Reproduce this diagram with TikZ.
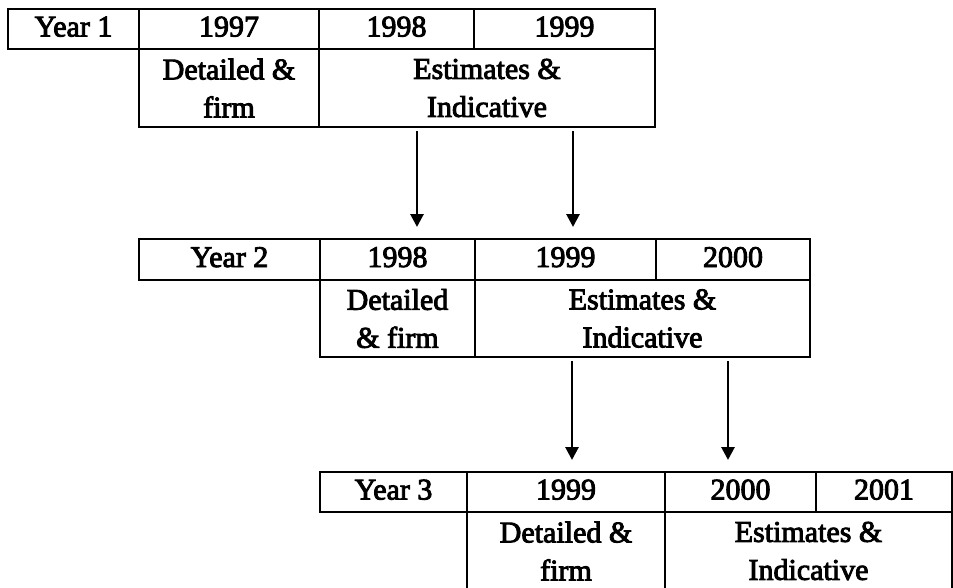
\documentclass[tikz,border=0pt]{standalone}
\usepackage{fontspec}
\setmainfont{Liberation Serif}
\newfontface\cellfont{Liberation Serif}[FakeBold=3]
\usetikzlibrary{arrows.meta}

\begin{document}
\begin{tikzpicture}[x=1pt,y=-1pt,
  cell/.style={draw=black,line width=2.6pt,inner sep=0pt,outer sep=0pt,anchor=north west,
    align=center,font=\cellfont\fontsize{30}{38}\selectfont},
  yr/.style={cell,minimum height=40,text height=21pt,text depth=6pt},
  flow/.style={draw=black,line width=2.8pt,-{Triangle[length=13pt,width=13pt]},
    shorten <=4pt,shorten >=12pt}]
\tikzstyle{every node}+=[inner sep=0pt]
\useasboundingbox (0,0) rectangle (953,587);
\node [yr,minimum width=131] (y1) at (8,9) {Year 1};
\node [yr,minimum width=180] (c1a) at (139,9) {1997};
\node [yr,minimum width=155] (c1b) at (319,9) {1998};
\node [yr,minimum width=181] (c1c) at (474,9) {1999};
\node [cell,minimum width=180,minimum height=78] (d1) at (139,49) {Detailed \&\\firm};
\node [cell,minimum width=336,minimum height=78] (e1) at (319,49) {Estimates \&\\Indicative};
\node [yr,minimum width=181,minimum height=41] (y2) at (139,239) {Year 2};
\node [yr,minimum width=155,minimum height=41] (c2a) at (320,239) {1998};
\node [yr,minimum width=181,minimum height=41] (c2b) at (475,239) {1999};
\node [yr,minimum width=154,minimum height=41] (c2c) at (656,239) {2000};
\node [cell,minimum width=155,minimum height=77] (d2) at (320,280) {Detailed\\\& firm};
\node [cell,minimum width=335,minimum height=77] (e2) at (475,280) {Estimates \&\\Indicative};
\node [yr,minimum width=147] (y3) at (320,472) {Year 3};
\node [yr,minimum width=198] (c3a) at (467,472) {1999};
\node [yr,minimum width=151] (c3b) at (665,472) {2000};
\node [yr,minimum width=136] (c3c) at (816,472) {2001};
\node [cell,minimum width=198,minimum height=78] (d3) at (467,512) {Detailed \&\\firm};
\node [cell,minimum width=287,minimum height=78] (e3) at (665,512) {Estimates \&\\Indicative};
\coordinate (p1) at (417,0);
\coordinate (p2) at (573,0);
\coordinate (p3) at (572,0);
\coordinate (p4) at (728,0);
\draw [flow] (e1.south -| p1) -- (c2a.north -| p1);
\draw [flow] (e1.south -| p2) -- (c2b.north -| p2);
\draw [flow] (e2.south -| p3) -- (c3a.north -| p3);
\draw [flow] (e2.south -| p4) -- (c3b.north -| p4);
\end{tikzpicture}
\end{document}
